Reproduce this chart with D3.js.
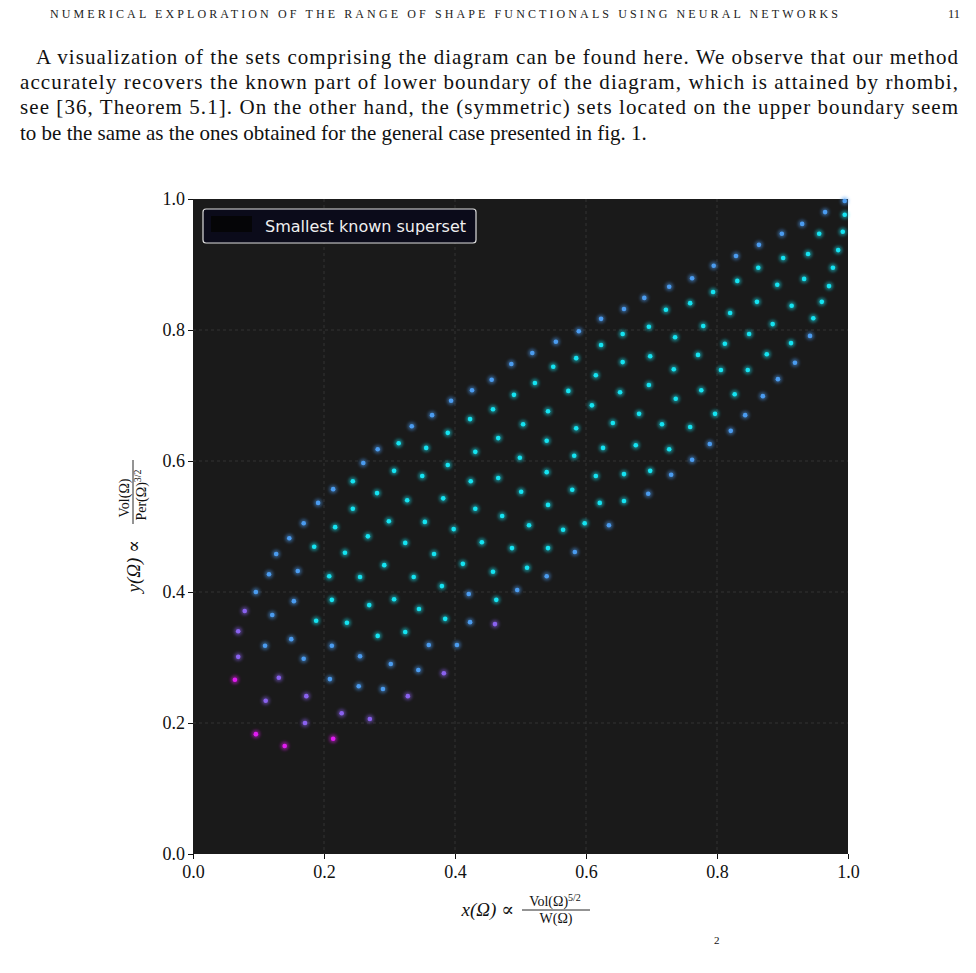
<!DOCTYPE html>
<html><head><meta charset="utf-8">
<script src="https://cdn.jsdelivr.net/npm/d3@7"></script>
<style>body{margin:0;background:#fff}svg{display:block}</style>
</head><body>
<svg id="c" width="976" height="973"></svg>
<script>
// data: [x, y, colorClass]  (c = cyan interior, b = blue boundary, v = violet, m = magenta)
const pointsA = [
[0.456,0.724,'b'],[0.426,0.708,'b'],[0.490,0.701,'c'],[0.394,0.692,'b'],[0.458,0.679,'c'],[0.365,0.670,'b'],[0.423,0.664,'c'],[0.334,0.653,'b'],[0.389,0.643,'c'],[0.466,0.635,'c'],
[0.314,0.627,'c'],[0.282,0.618,'b'],[0.356,0.620,'c'],[0.431,0.614,'c'],[0.499,0.605,'c'],[0.260,0.597,'b'],[0.307,0.585,'c'],[0.389,0.594,'c'],[0.350,0.577,'c'],[0.244,0.569,'c'],
[0.424,0.569,'c'],[0.466,0.574,'c'],[0.214,0.557,'b'],[0.281,0.551,'c'],[0.501,0.553,'c'],[0.191,0.536,'b'],[0.327,0.540,'c'],[0.382,0.543,'c'],[0.244,0.527,'c'],[0.431,0.527,'c'],
[0.472,0.516,'c'],[0.169,0.505,'b'],[0.299,0.508,'c'],[0.354,0.507,'c'],[0.217,0.499,'c'],[0.398,0.496,'c'],[0.147,0.482,'b'],[0.267,0.485,'c'],[0.441,0.476,'c'],[0.185,0.469,'c'],
[0.324,0.475,'c'],[0.487,0.467,'c'],[0.127,0.458,'b'],[0.232,0.460,'c'],[0.368,0.458,'c'],[0.412,0.443,'c'],[0.292,0.441,'c'],[0.458,0.431,'c'],[0.116,0.427,'b'],[0.160,0.432,'b'],
[0.208,0.424,'c'],[0.255,0.423,'c'],[0.337,0.423,'c'],[0.380,0.409,'c'],[0.495,0.403,'b'],[0.096,0.400,'b'],[0.421,0.397,'b'],[0.154,0.386,'b'],[0.212,0.388,'c'],[0.269,0.380,'c'],
[0.307,0.389,'c'],[0.345,0.374,'c'],[0.463,0.388,'c'],[0.079,0.371,'v'],[0.121,0.365,'b'],[0.188,0.356,'c'],[0.235,0.353,'c'],[0.385,0.359,'c'],[0.423,0.354,'b'],[0.461,0.351,'v'],
[0.069,0.340,'v'],[0.150,0.328,'b'],[0.282,0.333,'c'],[0.324,0.339,'c'],[0.110,0.318,'b'],[0.212,0.318,'b'],[0.360,0.319,'b'],[0.403,0.319,'b'],[0.069,0.301,'v'],[0.169,0.298,'b'],
[0.255,0.302,'b'],[0.302,0.290,'b'],[0.344,0.281,'b'],[0.383,0.276,'v'],[0.064,0.266,'m'],[0.131,0.269,'v'],[0.209,0.267,'b'],[0.253,0.256,'b'],[0.290,0.252,'b'],[0.328,0.241,'v'],
[0.111,0.234,'v'],[0.173,0.241,'v'],[0.227,0.215,'v'],[0.270,0.206,'v'],[0.171,0.200,'v'],[0.096,0.183,'m'],[0.140,0.165,'m'],[0.214,0.176,'m']
];
const pointsB = [
[0.995,0.997,'b'],[0.965,0.980,'b'],[0.995,0.976,'c'],[0.930,0.962,'b'],[0.956,0.947,'c'],[0.992,0.950,'c'],[0.899,0.947,'b'],[0.864,0.930,'b'],[0.939,0.916,'c'],[0.985,0.922,'c'],
[0.829,0.913,'b'],[0.901,0.910,'c'],[0.795,0.898,'b'],[0.863,0.895,'c'],[0.977,0.895,'c'],[0.762,0.879,'b'],[0.831,0.875,'c'],[0.933,0.878,'c'],[0.971,0.867,'c'],[0.727,0.866,'b'],
[0.794,0.858,'c'],[0.892,0.869,'c'],[0.689,0.849,'b'],[0.759,0.841,'c'],[0.861,0.843,'c'],[0.914,0.837,'c'],[0.960,0.843,'c'],[0.658,0.832,'b'],[0.722,0.831,'c'],[0.820,0.826,'c'],
[0.623,0.817,'b'],[0.696,0.805,'c'],[0.779,0.806,'c'],[0.885,0.809,'c'],[0.947,0.818,'c'],[0.589,0.798,'b'],[0.656,0.794,'c'],[0.736,0.789,'c'],[0.849,0.794,'c'],[0.942,0.791,'b'],
[0.554,0.782,'b'],[0.623,0.777,'c'],[0.812,0.779,'c'],[0.913,0.780,'c'],[0.518,0.765,'b'],[0.585,0.757,'c'],[0.698,0.760,'c'],[0.771,0.762,'c'],[0.876,0.763,'c'],[0.486,0.748,'b'],
[0.550,0.744,'c'],[0.656,0.751,'c'],[0.734,0.740,'c'],[0.806,0.739,'c'],[0.847,0.739,'c'],[0.919,0.750,'b'],[0.522,0.719,'c'],[0.615,0.731,'c'],[0.893,0.725,'b'],[0.573,0.707,'c'],
[0.652,0.705,'c'],[0.696,0.716,'c'],[0.776,0.708,'c'],[0.827,0.702,'c'],[0.870,0.699,'b'],[0.542,0.676,'c'],[0.609,0.685,'c'],[0.737,0.695,'c'],[0.797,0.672,'c'],[0.843,0.670,'b'],
[0.504,0.656,'c'],[0.585,0.650,'c'],[0.641,0.658,'c'],[0.681,0.672,'c'],[0.716,0.656,'c'],[0.759,0.652,'c'],[0.821,0.646,'b'],[0.540,0.631,'c'],[0.626,0.620,'c'],[0.676,0.624,'c'],
[0.727,0.618,'c'],[0.789,0.626,'b'],[0.582,0.608,'c'],[0.762,0.602,'b'],[0.540,0.583,'c'],[0.615,0.577,'c'],[0.658,0.580,'c'],[0.698,0.585,'c'],[0.730,0.579,'b'],[0.579,0.556,'c'],
[0.542,0.533,'c'],[0.621,0.536,'c'],[0.658,0.539,'c'],[0.695,0.550,'b'],[0.513,0.502,'c'],[0.565,0.495,'c'],[0.598,0.505,'c'],[0.635,0.502,'b'],[0.542,0.467,'c'],[0.583,0.461,'b'],
[0.510,0.437,'c'],[0.540,0.424,'b']
];
const xTicks = [0,0.2,0.4,0.6,0.8,1.0];
const yTicks = [0,0.2,0.4,0.6,0.8,1.0];
const legendLabel = "Smallest known superset";
const headerText = "NUMERICAL EXPLORATION OF THE RANGE OF SHAPE FUNCTIONALS USING NEURAL NETWORKS";
const pageNumber = "11";
const paraLines = [
 "A visualization of the sets comprising the diagram can be found here. We observe that our method",
 "accurately recovers the known part of lower boundary of the diagram, which is attained by rhombi,",
 "see [36, Theorem 5.1]. On the other hand, the (symmetric) sets located on the upper boundary seem",
 "to be the same as the ones obtained for the general case presented in fig. 1."
];
const colorMap = {c:'#14e4f2', b:'#4b9cf0', v:'#8a62f0', m:'#e21cf2'};

const svg = d3.select('#c');
const serif = '"Liberation Serif","DejaVu Serif",serif';

// header
svg.append('text').attr('x',50).attr('y',18).attr('font-family',serif).attr('font-size',12)
  .attr('textLength',788).attr('lengthAdjust','spacing').attr('fill','#222').text(headerText);
svg.append('text').attr('x',960).attr('y',18).attr('text-anchor','end').attr('font-family',serif).attr('font-size',12.5).attr('fill','#222').text(pageNumber);

// paragraph
const lx=[36,20,20,20], ly=[64,89,114,140], lw=[922,938,938,null];
paraLines.forEach((t,i)=>{
  const tx = svg.append('text').attr('x',lx[i]).attr('y',ly[i]).attr('font-family',serif).attr('font-size',21).attr('fill','#111').text(t);
  if(lw[i]) tx.attr('textLength',lw[i]).attr('lengthAdjust','spacing');
});

// plot
const L=193,R=848,T=199,B=854;
const x = d3.scaleLinear().domain([0,1]).range([L,R]);
const y = d3.scaleLinear().domain([0,1]).range([B,T]);
svg.append('rect').attr('x',L).attr('y',T).attr('width',R-L).attr('height',B-T).attr('fill','#1a1a1a');
const g = svg.append('g');
g.selectAll('.gx').data(xTicks.slice(1,-1)).join('line').attr('x1',d=>x(d)).attr('x2',d=>x(d)).attr('y1',T).attr('y2',B)
  .attr('stroke','#3a3a3a').attr('stroke-width',0.8).attr('stroke-dasharray','3,3');
g.selectAll('.gy').data(yTicks.slice(1,-1)).join('line').attr('y1',d=>y(d)).attr('y2',d=>y(d)).attr('x1',L).attr('x2',R)
  .attr('stroke','#3a3a3a').attr('stroke-width',0.8).attr('stroke-dasharray','3,3');

const defs = svg.append('defs');
defs.append('filter').attr('id','glow').attr('x','-2').attr('y','-2').attr('width','5').attr('height','5')
  .append('feGaussianBlur').attr('stdDeviation',1.6);
const pts = pointsA.concat(pointsB);
svg.append('g').selectAll('circle').data(pts).join('circle')
  .attr('cx',d=>x(d[0])).attr('cy',d=>y(d[1])).attr('r',4.2).attr('fill',d=>colorMap[d[2]]).attr('opacity',0.45).attr('filter','url(#glow)');
svg.append('g').selectAll('circle').data(pts).join('circle')
  .attr('cx',d=>x(d[0])).attr('cy',d=>y(d[1])).attr('r',2.3).attr('fill',d=>colorMap[d[2]]);

// axes
const ax = svg.append('g').attr('transform',`translate(0,${B})`).call(d3.axisBottom(x).tickValues(xTicks).tickFormat(d3.format('.1f')).tickSize(5));
const ay = svg.append('g').attr('transform',`translate(${L},0)`).call(d3.axisLeft(y).tickValues(yTicks).tickFormat(d3.format('.1f')).tickSize(5));
[ax,ay].forEach(a=>{a.attr('font-size',18).attr('font-family',serif); a.select('.domain').remove(); a.selectAll('text').attr('fill','#111'); a.selectAll('line').attr('stroke','#111');});
ax.selectAll('text').attr('dy','0.9em');

// legend
svg.append('rect').attr('x',203).attr('y',209).attr('width',273).attr('height',34).attr('rx',3)
  .attr('fill','#0b0b1a').attr('stroke','#ddd').attr('stroke-width',1.2);
svg.append('rect').attr('x',211).attr('y',216).attr('width',41).attr('height',16).attr('fill','#050507');
svg.append('text').attr('x',265).attr('y',232).attr('font-family','"DejaVu Sans",sans-serif').attr('font-size',16).attr('fill','#f0f0f0').text(legendLabel);

// x label
const xl = svg.append('g').attr('font-family',serif).attr('fill','#111');
xl.append('text').attr('x',514).attr('y',916).attr('text-anchor','end').attr('font-size',19).attr('font-style','italic').text('x(Ω) ∝');
xl.append('text').attr('x',555).attr('y',906).attr('text-anchor','middle').attr('font-size',14).html('Vol(Ω)<tspan dy="-5" font-size="10">5/2</tspan>');
xl.append('line').attr('x1',522).attr('x2',590).attr('y1',910).attr('y2',910).attr('stroke','#111').attr('stroke-width',0.9);
xl.append('text').attr('x',556).attr('y',923).attr('text-anchor','middle').attr('font-size',14).text('W(Ω)');

// y label
const yl = svg.append('g').attr('transform','translate(133,528) rotate(-90)').attr('font-family',serif).attr('fill','#111');
yl.append('text').attr('x',-12).attr('y',7).attr('text-anchor','end').attr('font-size',19).attr('font-style','italic').text('y(Ω) ∝');
yl.append('text').attr('x',30).attr('y',-4).attr('text-anchor','middle').attr('font-size',14).text('Vol(Ω)');
yl.append('line').attr('x1',4).attr('x2',68).attr('y1',0).attr('y2',0).attr('stroke','#111').attr('stroke-width',0.9);
yl.append('text').attr('x',33).attr('y',13).attr('text-anchor','middle').attr('font-size',14).html('Per(Ω)<tspan dy="-5" font-size="10">3/2</tspan>');

svg.append('text').attr('x',714).attr('y',944).attr('font-family',serif).attr('font-size',11).attr('fill','#111').text('2');
</script>
</body></html>
